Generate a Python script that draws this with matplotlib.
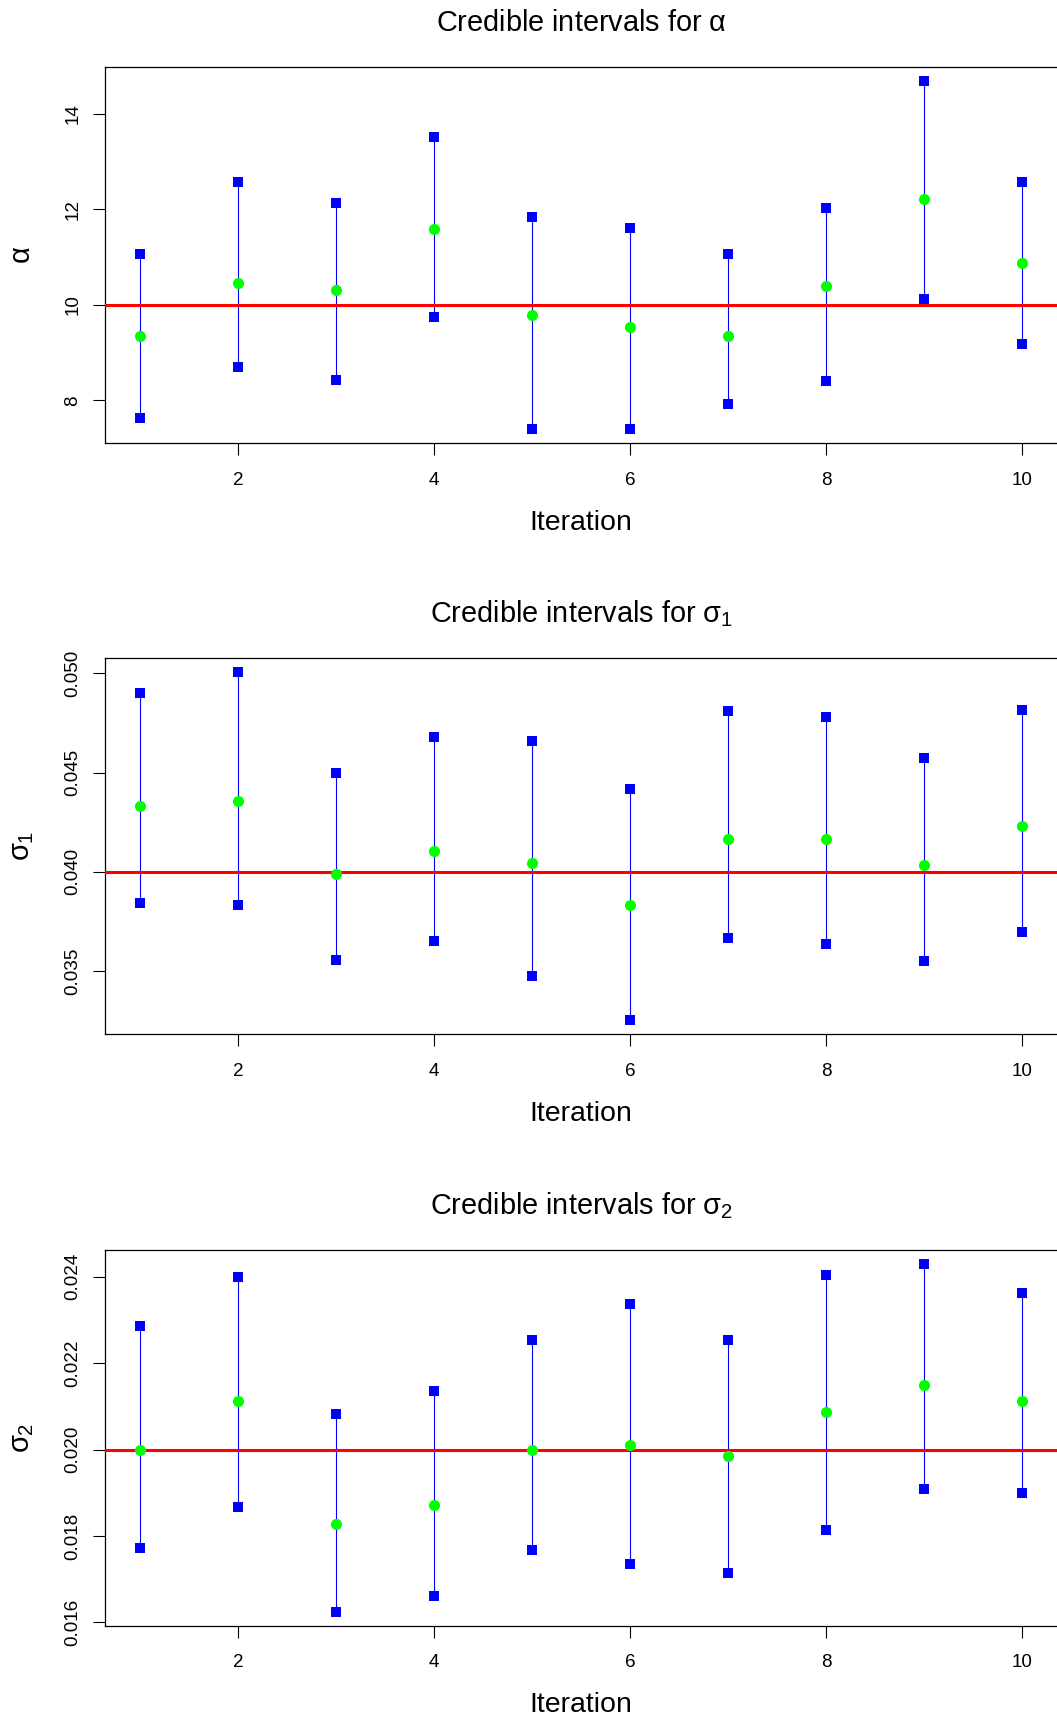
import matplotlib
matplotlib.use("Agg")
from matplotlib import pyplot as plt
import numpy as np

plt.rcParams['font.family'] = ['Liberation Sans', 'DejaVu Sans']
plt.rcParams['mathtext.fontset'] = 'custom'
plt.rcParams['mathtext.rm'] = 'Liberation Sans'
plt.rcParams['mathtext.it'] = 'Liberation Sans'

iteration = [1, 2, 3, 4, 5, 6, 7, 8, 9, 10]

# alpha: lower bound, posterior mean, upper bound
alpha_low = [7.633, 8.697, 8.419, 9.738, 7.401, 7.408, 7.918, 8.412, 10.12, 9.176]
alpha_mid = [9.341, 10.457, 10.315, 11.581, 9.783, 9.543, 9.348, 10.390, 12.225, 10.884]
alpha_high = [11.056, 12.577, 12.142, 13.506, 11.843, 11.610, 11.056, 12.030, 14.689, 12.569]

# sigma_1
sig1_low = [0.03841, 0.03831, 0.03559, 0.03652, 0.03477, 0.03254, 0.03668, 0.03638, 0.03553, 0.03695]
sig1_mid = [0.04333, 0.04359, 0.03987, 0.04104, 0.04047, 0.03832, 0.04168, 0.04164, 0.04034, 0.04231]
sig1_high = [0.04901, 0.05007, 0.04497, 0.04681, 0.04659, 0.04420, 0.04809, 0.04778, 0.04575, 0.04814]

# sigma_2
sig2_low = [0.017719, 0.018661, 0.016248, 0.016603, 0.017669, 0.017339, 0.017140, 0.018132, 0.019091, 0.018992]
sig2_mid = [0.020000, 0.021132, 0.018281, 0.018719, 0.019992, 0.020107, 0.019851, 0.020868, 0.021504, 0.021124]
sig2_high = [0.022851, 0.024000, 0.020818, 0.021347, 0.022545, 0.023364, 0.022545, 0.024050, 0.024298, 0.023620]

true_vals = [10, 0.04, 0.02]
titles = [r'Credible intervals for $\alpha$',
          r'Credible intervals for $\sigma_1$',
          r'Credible intervals for $\sigma_2$']
ylabels = [r'$\alpha$', r'$\sigma_1$', r'$\sigma_2$']
yticks = [[8, 10, 12, 14],
          [0.035, 0.040, 0.045, 0.050],
          [0.016, 0.018, 0.020, 0.022, 0.024]]
yticklabels = [['8', '10', '12', '14'],
               ['0.035', '0.040', '0.045', '0.050'],
               ['0.016', '0.018', '0.020', '0.022', '0.024']]
xticks = [2, 4, 6, 8, 10]

data = [(alpha_low, alpha_mid, alpha_high),
        (sig1_low, sig1_mid, sig1_high),
        (sig2_low, sig2_mid, sig2_high)]

W, H = 1057, 1720
fig = plt.figure(figsize=(W / 100, H / 100), dpi=100)

# pixel boxes (top, bottom) of each panel
boxes = [(67, 443), (658, 1034), (1250, 1625.5)]
left_px, right_px = 104.5, 1057.8

for i in range(3):
    top, bot = boxes[i]
    ax = fig.add_axes([left_px / W, 1 - bot / H, (right_px - left_px) / W, (bot - top) / H])
    lo, mid, hi = data[i]

    ax.vlines(iteration, lo, hi, color='#0000FF', lw=0.8, zorder=2)
    ax.axhline(true_vals[i], color='#FF0000', lw=2.2, zorder=3)
    ax.plot(iteration, lo, 's', color='#0000FF', ms=6.5, mew=0, zorder=4)
    ax.plot(iteration, hi, 's', color='#0000FF', ms=6.5, mew=0, zorder=4)
    ax.plot(iteration, mid, 'o', color='#00FF00', ms=8, mew=0, zorder=5)

    # R style 4% padding around the data range
    ymin, ymax = min(lo), max(hi)
    pad = 0.04 * (ymax - ymin)
    ax.set_ylim(ymin - pad, ymax + pad)
    ax.set_xlim(1 - 0.04 * 9, 10 + 0.04 * 9)

    ax.set_xticks(xticks)
    ax.set_xticklabels([str(x) for x in xticks])
    ax.set_yticks(yticks[i])
    ax.set_yticklabels(yticklabels[i], rotation=90)
    for lab in ax.get_yticklabels():
        lab.set_va('center')
    ax.tick_params(axis='both', length=8.6, width=0.8, labelsize=13.6, color='black')
    ax.tick_params(axis='x', pad=12)
    ax.tick_params(axis='y', pad=8)
    for s in ax.spines.values():
        s.set_linewidth(0.9)
        s.set_color('black')

    h = bot - top
    wpx = right_px - left_px
    ax.text(0.5, 1 + 44 / h, titles[i], transform=ax.transAxes,
            ha='center', va='center', fontsize=20.8)
    ax.set_xlabel('Iteration', fontsize=20.5, va='center')
    ax.xaxis.set_label_coords(0.5, -80 / h)
    ax.set_ylabel(ylabels[i], fontsize=21, va='center', ha='center')
    ax.yaxis.set_label_coords(-82 / wpx, 0.5)

fig.savefig('out.png', dpi=100)
